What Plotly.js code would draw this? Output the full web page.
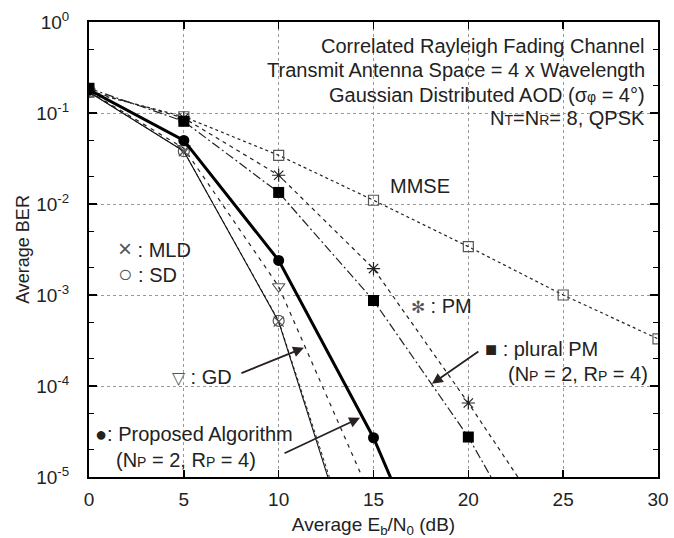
<!DOCTYPE html>
<html><head><meta charset="utf-8">
<script src="https://cdn.plot.ly/plotly-3.0.1.min.js"></script>
<style>body{margin:0;background:#fff}#c{width:674px;height:538px}</style>
</head><body><div id="c"></div><script>
const snr = [0, 5, 10, 15, 20, 25, 30];
const snrMld = [0, 5, 10, 15];
const snrGd = [0, 5, 10, 15];
const snrProp = [0, 5, 10, 15, 20];
const snrPm = [0, 5, 10, 15, 20, 25];
const berMmse = [0.17, 0.091, 0.0343, 0.011, 0.0034, 0.001, 0.00033];
const berPm = [0.175, 0.088, 0.0207, 0.00195, 0.000065, 0.0000018];
const berPlural = [0.187, 0.081, 0.0134, 0.00087, 0.0000275, 0.0000004];
const berProp = [0.18, 0.05, 0.0024, 0.000027, 0.0000001];
const berGd = [0.172, 0.041, 0.00124, 0.0000052];
const berMld = [0.17, 0.038, 0.00051, 0.00000026];
const berSd = [0.17, 0.038, 0.00052, 0.00000032];
const xTicks = [0, 5, 10, 15, 20, 25, 30];
const yTickVals = [1, 0.1, 0.01, 0.001, 0.0001, 0.00001];
const yTickText = ['10<sup>0</sup>', '10<sup>-1</sup>', '10<sup>-2</sup>', '10<sup>-3</sup>', '10<sup>-4</sup>', '10<sup>-5</sup>'];

const gray = '#555';
const traces = [
  {x: snr, y: berMmse, mode: 'lines+markers', line: {color: '#222', width: 1.2, dash: 'dot'},
   marker: {symbol: 'square-open', size: 10, color: gray, line: {width: 1.2}}},
  {x: snrPm, y: berPm, mode: 'lines+markers', line: {color: '#222', width: 1.2, dash: '4px,4px'},
   marker: {symbol: 'asterisk-open', size: 11, color: '#222', line: {width: 1.2}}},
  {x: snrPm, y: berPlural, mode: 'lines+markers', line: {color: '#222', width: 1.2, dash: '9px,3px,2px,3px'},
   marker: {symbol: 'square', size: 11, color: '#000'}},
  {x: snrGd, y: berGd, mode: 'lines+markers', line: {color: '#222', width: 1.2, dash: '4px,5px'},
   marker: {symbol: 'triangle-down-open', size: 11, color: gray, line: {width: 1.2}}},
  {x: snrMld, y: berSd, mode: 'lines+markers', line: {color: '#222', width: 1, dash: '3px,3px'},
   marker: {symbol: 'circle-open', size: 11, color: gray, line: {width: 1.2}}},
  {x: snrMld, y: berMld, mode: 'lines+markers', line: {color: '#111', width: 1.1},
   marker: {symbol: 'x-thin-open', size: 10, color: gray, line: {width: 1.2}}},
  {x: snrProp, y: berProp, mode: 'lines+markers', line: {color: '#000', width: 3},
   marker: {symbol: 'circle', size: 11, color: '#000'}}
];

const F = 'Liberation Sans, Arial, sans-serif';
const tf = {family: F, size: 20, color: '#222'};
function txt(x, ly, text, anchor) {
  return {x: x, y: ly, xref: 'x', yref: 'y', text: text, showarrow: false,
          xanchor: anchor || 'left', yanchor: 'middle', font: tf};
}
function arrow(x0, y0, x1, y1) {
  return {x: x1, y: y1, ax: x0, ay: y0, xref: 'x', yref: 'y', axref: 'x', ayref: 'y',
          text: '', showarrow: true, arrowhead: 2, arrowsize: 1.2, arrowwidth: 1.8, arrowcolor: '#2a2020'};
}
const sm = s => '<span style="font-size:14px">' + s + '</span>';
const big = (s, z) => '<span style="font-size:' + z + 'px;color:#555">' + s + '</span>';
const ann = [
  txt(29.4, -0.264, 'Correlated Rayleigh Fading Channel', 'right'),
  txt(29.4, -0.529, 'Transmit Antenna Space = 4 x Wavelength', 'right'),
  txt(29.4, -0.804, 'Gaussian Distributed AOD (σ' + sm('φ') + ' = 4°)', 'right'),
  txt(29.4, -1.057, 'N' + sm('T') + '=N' + sm('R') + '= 8, QPSK', 'right'),
  txt(15.76, -1.806, 'MMSE'),
  txt(1.4, -2.49, big('×', 24) + ' : MLD'),
  txt(1.4, -2.764, big('○', 24) + ' : SD'),
  txt(16.85, -3.117, big('✻', 17) + ' : PM'),
  txt(20.77, -3.59, '■ : plural PM'),
  txt(21.98, -3.866, '(N' + sm('P') + ' = 2, R' + sm('P') + ' = 4)'),
  txt(4.27, -3.9, big('▽', 17) + ' : GD'),
  txt(0.21, -4.53, '●: Proposed Algorithm'),
  txt(1.32, -4.81, '(N' + sm('P') + ' = 2, R' + sm('P') + ' = 4)'),
  arrow(7.96, -3.866, 11.33, -3.58),
  arrow(20.61, -3.61, 18.08, -3.976),
  arrow(10.23, -4.747, 14.29, -4.35)
];

const minorVals = [];
for (let e = -5; e < 0; e++) { minorVals.push(2 * Math.pow(10, e), 5 * Math.pow(10, e)); }

const layout = {
  width: 674, height: 538, showlegend: false,
  paper_bgcolor: '#fff', plot_bgcolor: '#fff',
  margin: {l: 89, r: 16, t: 22, b: 61},
  font: {family: F, color: '#222'},
  xaxis: {range: [0, 30], tickvals: xTicks, ticks: 'inside', ticklen: 7, tickwidth: 1.5, tickcolor: '#000',
          showline: true, linecolor: '#000', linewidth: 2, mirror: 'allticks',
          showgrid: true, gridcolor: '#999', griddash: 'dot', gridwidth: 1, zeroline: false,
          tickfont: {family: F, size: 19, color: '#222'}, ticklabelstandoff: 4,
          title: {text: 'Average E<sub>b</sub>/N<sub>0</sub> (dB)', font: {family: F, size: 19, color: '#222'}, standoff: 10}},
  yaxis: {type: 'log', range: [-5, 0], tickvals: yTickVals, ticktext: yTickText, ticks: 'inside', ticklen: 8, tickwidth: 1.5,
          tickcolor: '#000', showline: true, linecolor: '#000', linewidth: 2, mirror: 'allticks',
          showgrid: true, gridcolor: '#999', griddash: 'dot', gridwidth: 1, zeroline: false,
          tickfont: {family: F, size: 19, color: '#222'}, ticklabelstandoff: 14,
          minor: {tickvals: minorVals, ticks: 'inside', ticklen: 5, tickcolor: '#000', showgrid: false},
          title: {text: 'Average BER', font: {family: F, size: 18, color: '#222'}, standoff: 2}},
  annotations: ann
};
Plotly.newPlot('c', traces, layout, {staticPlot: true});
</script></body></html>
